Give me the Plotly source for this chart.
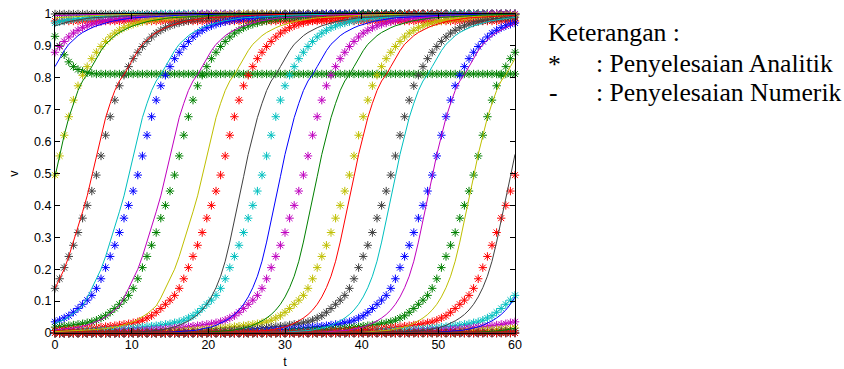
import numpy as np
import plotly.graph_objects as go

# ---------------- data ----------------
langkah_t = 0.6                      # spacing of the time samples
t = np.round(np.arange(0, 101) * langkah_t, 1)   # t = 0 ... 60

# analytic wave profile v(offset),
# offsets -24.0 ... 24.0 in steps of 0.6 (offset 0 = where v ~ 0.5)
profil_analitik = [
    0.005, 0.0055, 0.006, 0.0068, 0.0075, 0.0083, 0.009, 0.010, 0.011, 0.012,
    0.013, 0.014, 0.0155, 0.017, 0.0185, 0.020, 0.0215, 0.023, 0.025, 0.027,
    0.029, 0.032, 0.035, 0.040, 0.047, 0.054, 0.065, 0.077, 0.090, 0.103,
    0.118, 0.140, 0.170, 0.205, 0.240, 0.275, 0.315, 0.360, 0.400, 0.445,
    0.495,
    0.555, 0.620, 0.678, 0.730, 0.775, 0.808, 0.835, 0.860, 0.880, 0.898,
    0.914, 0.928, 0.940, 0.949, 0.957, 0.963, 0.968, 0.972, 0.976, 0.979,
    0.982, 0.984, 0.986, 0.987, 0.988, 0.989, 0.990, 0.991, 0.992, 0.993,
    0.9935, 0.994, 0.9945, 0.995, 0.9955, 0.996, 0.9965, 0.997, 0.9975, 0.998,
]

# numeric profile, lower half (offsets -24.0 ... -0.6) for the early fronts
numerik_bawah_awal = [
    0.0015, 0.0017, 0.002, 0.0023, 0.0026, 0.003, 0.0034, 0.0038, 0.0043, 0.0048,
    0.0054, 0.006, 0.0067, 0.0075, 0.0083, 0.0092, 0.010, 0.011, 0.0125, 0.014,
    0.016, 0.018, 0.021, 0.025, 0.030, 0.035, 0.042, 0.050, 0.060, 0.072,
    0.085, 0.110, 0.140, 0.168, 0.200, 0.240, 0.285, 0.330, 0.380, 0.430,
]
# numeric profile, lower half for the later (steeper) fronts
numerik_bawah = [
    0.0001, 0.0001, 0.0001, 0.0002, 0.0002, 0.0003, 0.0003, 0.0004, 0.0005, 0.0006,
    0.0007, 0.0009, 0.0011, 0.0014, 0.0017, 0.0021, 0.0026, 0.0032, 0.004, 0.005,
    0.0062, 0.0077, 0.0095, 0.012, 0.015, 0.019, 0.024, 0.030, 0.038, 0.047,
    0.058, 0.072, 0.090, 0.113, 0.142, 0.178, 0.225, 0.285, 0.350, 0.420,
]
# numeric profile, upper half (offsets 0 ... 24.0)
numerik_atas = [
    0.490, 0.560, 0.620, 0.675, 0.720, 0.760, 0.790, 0.810, 0.835, 0.860, 0.885,
    0.905, 0.920, 0.932, 0.942, 0.950, 0.957, 0.963, 0.968, 0.972, 0.976,
    0.979, 0.982, 0.984, 0.986, 0.988, 0.989, 0.990, 0.991, 0.992, 0.993,
    0.994, 0.9945, 0.995, 0.9955, 0.996, 0.9965, 0.997, 0.9975, 0.998, 0.9985,
]

# time at which each analytic curve passes v = 0.5
tengah_analitik = [-10.8, -5.4, 0.0, 5.2, 10.5, 15.9, 21.6, 27.1, 32.6, 38.2,
                   43.7, 49.1, 54.4, 60.2, 65.7, 71.1, 76.6, 82.0, 87.5, 92.9, 98.4]
warna_analitik = ['c', 'm', 'y', 'k', 'b', 'g', 'r', 'c', 'm', 'y',
                  'k', 'b', 'g', 'r', 'c', 'm', 'y', 'k', 'b', 'g', 'r']

# the three flat analytic series at the top
analitik_atas = 1.0
analitik_hijau_awal = [0.93, 0.90, 0.872, 0.85, 0.835, 0.826, 0.82, 0.816, 0.814]
analitik_hijau_datar = 0.812
analitik_merah_datar = 0.978

# time at which each numeric curve passes v = 0.5
tengah_numerik = [-20, -15, -10, -5, 0, 4.9, 9.6, 14.5, 19.4, 24.4, 29.4, 34.4,
                  39.2, 44.2, 49.3, 54.4, 59.3, 64.3, 69.3, 74.3, 79.3, 84.3,
                  89.3, 94.3, 99.3, 104.3, 109.3]
warna_numerik = ['m', 'y', 'k', 'b', 'g', 'r', 'c', 'm', 'y', 'k', 'b', 'g',
                 'r', 'c', 'm', 'y', 'k', 'b', 'g', 'r', 'c', 'm',
                 'y', 'k', 'b', 'g', 'r']
front_awal = [4.9, 9.6, 14.5, 19.4]

# ---------------- styling ----------------
WARNA = {'b': '#0000FF', 'g': '#008000', 'r': '#FF0000', 'c': '#00BFBF',
         'm': '#BF00BF', 'y': '#BFBF00', 'k': '#404040'}

n = len(t)


def geser(profil, tengah, kiri, kanan):
    profil = np.asarray(profil, dtype=float)
    pusat = len(profil) // 2
    s = int(round(tengah / langkah_t))
    idx = np.arange(n) - s + pusat
    out = profil[np.clip(idx, 0, len(profil) - 1)]
    out = np.where(idx < 0, kiri, out)
    out = np.where(idx >= len(profil), kanan, out)
    return out


fig = go.Figure()


def bintang(y, kode):
    c = WARNA[kode]
    fig.add_trace(go.Scatter(
        x=t, y=y, mode='markers', cliponaxis=False, hoverinfo='skip',
        marker=dict(symbol='asterisk-open', size=7, color=c,
                    line=dict(color=c, width=1)),
        showlegend=False))


# analytic (asterisks)
bintang(np.full(n, analitik_atas), 'k')
hijau = np.array(analitik_hijau_awal + [analitik_hijau_datar] * (n - len(analitik_hijau_awal)))
bintang(hijau, 'g')
bintang(np.full(n, analitik_merah_datar), 'r')
for m, kode in zip(tengah_analitik, warna_analitik):
    bintang(geser(profil_analitik, m, 0.0, 1.0), kode)

# numeric (lines)
for m, kode in zip(tengah_numerik, warna_numerik):
    bawah = numerik_bawah_awal if m in front_awal else numerik_bawah
    y = geser(bawah + numerik_atas, m, 0.0, 1.0)
    fig.add_trace(go.Scatter(
        x=t, y=y, mode='lines', hoverinfo='skip',
        line=dict(color=WARNA[kode], width=1), showlegend=False))

sumbu = dict(showline=True, linecolor='black', linewidth=1, mirror='ticks',
             ticks='inside', ticklen=5, tickcolor='black', showgrid=False,
             zeroline=False, automargin=False, tickfont=dict(size=12.5, color='black'))

fig.update_xaxes(range=[0, 60], tickvals=[0, 10, 20, 30, 40, 50, 60],
                 title=dict(text='t', standoff=7, font=dict(size=12.5)), **sumbu)
fig.update_yaxes(range=[0, 1], tickvals=[0, 0.1, 0.2, 0.3, 0.4, 0.5, 0.6, 0.7, 0.8, 0.9, 1],
                 ticktext=['0', '0.1', '0.2', '0.3', '0.4', '0.5', '0.6', '0.7', '0.8', '0.9', '1'],
                 title=dict(text='v', standoff=12, font=dict(size=12.5)), **sumbu)

W, H = 844, 369
L, R, T, B = 55, 329, 14, 36


def px(x):
    return (x - L) / (W - L - R)


def py(y):
    return (H - B - y) / (H - T - B)


serif = dict(family='Times New Roman, Liberation Serif, Times, serif', size=25.7, color='black')
catatan = [
    (546, 33, 'Keterangan :'),
    (546, 64, '*'),
    (594, 63, ': Penyelesaian Analitik'),
    (547, 93, '-'),
    (594, 93, ': Penyelesaian Numerik'),
]
for x0, y0, teks in catatan:
    fig.add_annotation(x=px(x0), y=py(y0), xref='paper', yref='paper', text=teks,
                       showarrow=False, xanchor='left', yanchor='middle', font=serif)

fig.update_layout(width=W, height=H, margin=dict(l=L, r=R, t=T, b=B, autoexpand=False),
                  paper_bgcolor='white', plot_bgcolor='white', showlegend=False,
                  font=dict(family='Liberation Sans', size=12.5, color='black'))

fig.write_html('out.html', config={'displayModeBar': False},
               post_script="document.body.style.margin='0';document.body.style.padding='0';")
